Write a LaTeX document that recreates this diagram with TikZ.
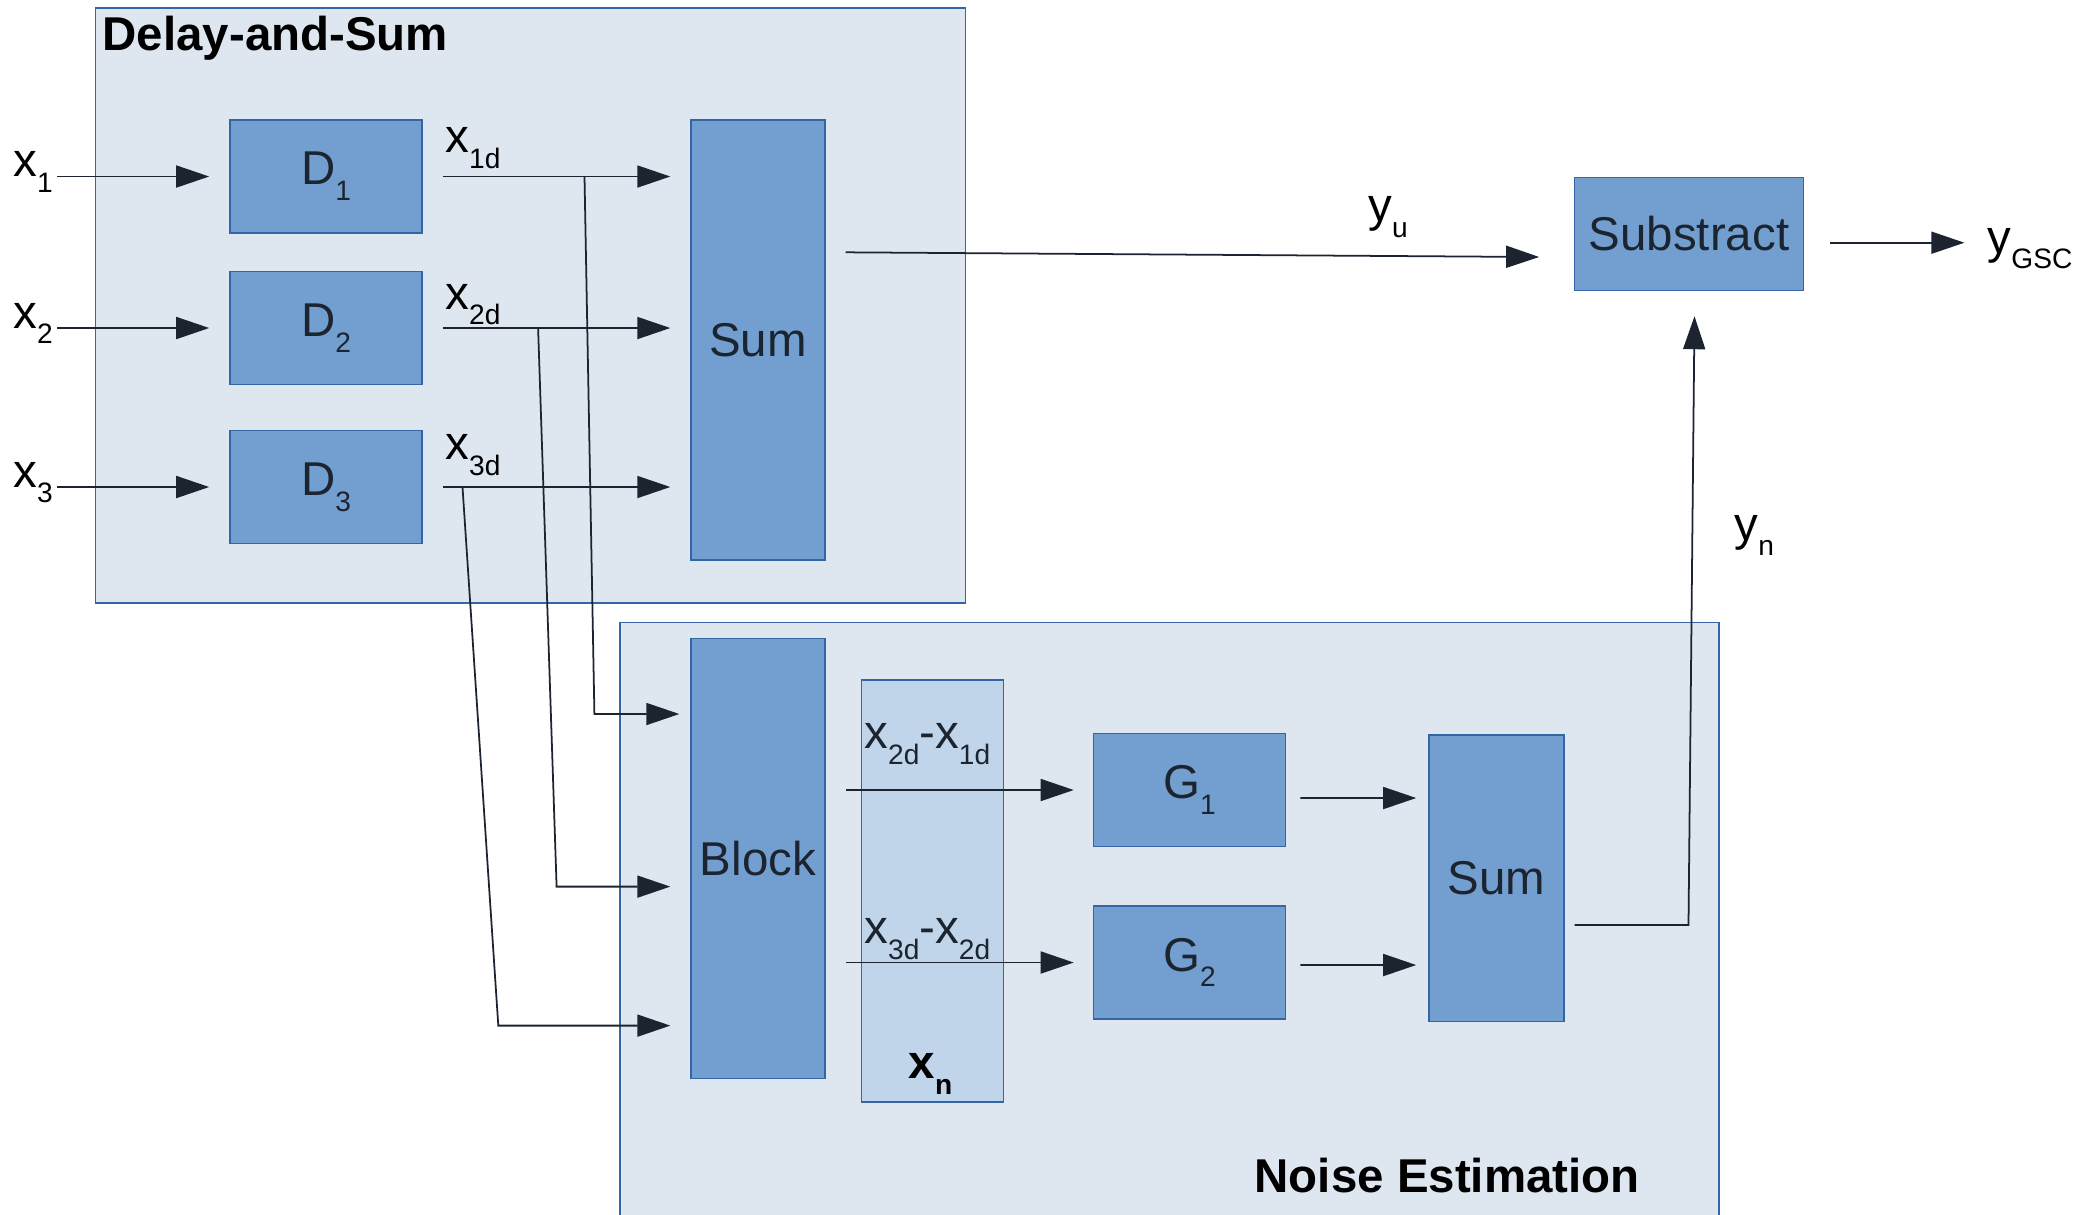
\documentclass[tikz,border=0pt]{standalone}
\usepackage{fontspec}
\setmainfont{Liberation Sans}
\usetikzlibrary{arrows.meta}
\definecolor{framefill}{HTML}{DEE6EF}
\definecolor{boxfill}{HTML}{729FCF}
\definecolor{boxline}{HTML}{3465A4}
\definecolor{xnfill}{HTML}{C0D4EA}
\definecolor{ink}{HTML}{1C2430}
\newcommand{\bigtxt}{\fontsize{13.5}{16}\selectfont}
\newcommand{\lowsub}[1]{\raisebox{-4.5pt}{\fontsize{8}{8}\selectfont #1}}

\begin{document}
\begin{tikzpicture}[
    frame/.style={draw=boxline, fill=framefill, line width=0.4pt, inner sep=0pt},
    blk/.style={draw=boxline, fill=boxfill, line width=0.4pt, text=ink, font=\bigtxt, inner sep=0pt, minimum width=1.922cm, minimum height=1.13cm},
    tall/.style={blk, minimum width=1.34cm, minimum height=4.40cm},
    sig/.style={draw=ink, line width=0.5pt, -{Triangle[length=3.3mm,width=2.2mm]}},
    lbl/.style={font=\bigtxt, inner sep=0pt},
    title/.style={font=\bfseries\bigtxt, inner sep=0pt, anchor=base west}]
\useasboundingbox (0,0) rectangle (20.78,-12.14);

\node[frame, minimum width=8.70cm, minimum height=5.95cm] (dsframe) at (5.305,-3.055) {};
\node[frame, minimum width=10.99cm, minimum height=6.30cm] (neframe) at (11.695,-9.375) {};
\node[title] (dstitle) at (1.02,-0.50) {Delay-and-Sum};
\node[title] (netitle) at (12.54,-11.92) {Noise Estimation};

\node[blk] (d1) at (3.26,-1.765) {D\lowsub{1}};
\node[blk] (d2) at (3.26,-3.28) {D\lowsub{2}};
\node[blk] (d3) at (3.26,-4.87) {D\lowsub{3}};
\node[tall] (sumds) at (7.58,-3.40) {Sum};
\node[blk, minimum width=2.293cm] (subtr) at (16.89,-2.34) {Substract};
\node[tall] (blockbox) at (7.58,-8.585) {Block};
\node[draw=boxline, fill=xnfill, line width=0.4pt, minimum width=1.42cm, minimum height=4.22cm] (xnbox) at (9.326,-8.91) {};
\node[blk] (g1) at (11.895,-7.90) {G\lowsub{1}};
\node[blk] (g2) at (11.895,-9.625) {G\lowsub{2}};
\node[blk, minimum width=1.35cm, minimum height=2.865cm] (sumne) at (14.964,-8.784) {Sum};

\foreach \i/\dy in {1/0.236, 2/0.19, 3/0.275} {
  \coordinate (in\i) at (0.574,0 |- d\i.west);
  \draw[sig] (in\i) -- ([xshift=-2mm]d\i.west);
  \node[lbl, anchor=base east] (lx\i) at ([xshift=-0.04cm]in\i) {x\lowsub{\i}};
  \coordinate (o\i) at ([xshift=2mm]d\i.east);
  \draw[sig] (o\i) -- ([xshift=-2mm]sumds.west |- o\i);
  \node[lbl, anchor=base west] (lxd\i) at ([xshift=0.02cm,yshift=\dy cm]o\i) {x\lowsub{\i d}};
}

\coordinate (k1) at (5.944,-7.14);
\coordinate (k2) at (5.566,-8.866);
\coordinate (k3) at (4.983,-10.256);
\draw[sig] (5.845,0 |- o1) -- (k1) -- ([xshift=-1.1mm]blockbox.west |- k1);
\draw[sig] (5.381,0 |- o2) -- (k2) -- ([xshift=-2mm]blockbox.west |- k2);
\draw[sig] (4.625,0 |- o3) -- (k3) -- ([xshift=-2mm]blockbox.west |- k3);

\coordinate (yu0) at ([xshift=2mm]sumds.east |- 0,-2.523);
\draw[sig] (yu0) -- ([xshift=-3.45mm,yshift=-2.3mm]subtr.west);
\node[lbl, anchor=base west] (lyu) at (13.677,-2.217) {y\lowsub{u}};
\coordinate (ygsc) at ([xshift=16.0mm,yshift=-0.87mm]subtr.east);
\draw[sig] ([xshift=2.6mm,yshift=-0.87mm]subtr.east) -- (ygsc);
\node[lbl, anchor=base west] (lygsc) at (19.87,-2.53) {y\lowsub{GSC}};

\coordinate (yn0) at ([xshift=1mm]sumne.east |- 0,-9.25);
\coordinate (yn1) at (16.885,-9.25);
\draw[sig] (yn0) -- (yn1) -- ([xshift=0.55mm,yshift=-2.5mm]subtr.south);
\node[lbl, anchor=base west] (lyn) at (17.34,-5.40) {y\lowsub{n}};

\draw[sig] ([xshift=2.05mm]blockbox.east |- g1.west) -- ([xshift=-1.9mm]g1.west);
\draw[sig] ([xshift=2.05mm]blockbox.east |- g2.west) -- ([xshift=-1.9mm]g2.west);
\node[lbl, text=ink, anchor=base west] (ldiff1) at (8.637,-7.488) {x\lowsub{2d}-x\lowsub{1d}};
\node[lbl, text=ink, anchor=base west] (ldiff2) at (8.637,-9.438) {x\lowsub{3d}-x\lowsub{2d}};
\node[lbl, font=\bfseries\bigtxt, anchor=base west] (lxn) at (9.08,-10.785) {x\lowsub{n}};

\draw[sig] ([xshift=1.4mm,yshift=-0.8mm]g1.east) -- ([xshift=-1.2mm]sumne.west |- 0,-7.98);
\draw[sig] ([xshift=1.4mm,yshift=-0.25mm]g2.east) -- ([xshift=-1.2mm]sumne.west |- 0,-9.65);
\end{tikzpicture}
\end{document}
